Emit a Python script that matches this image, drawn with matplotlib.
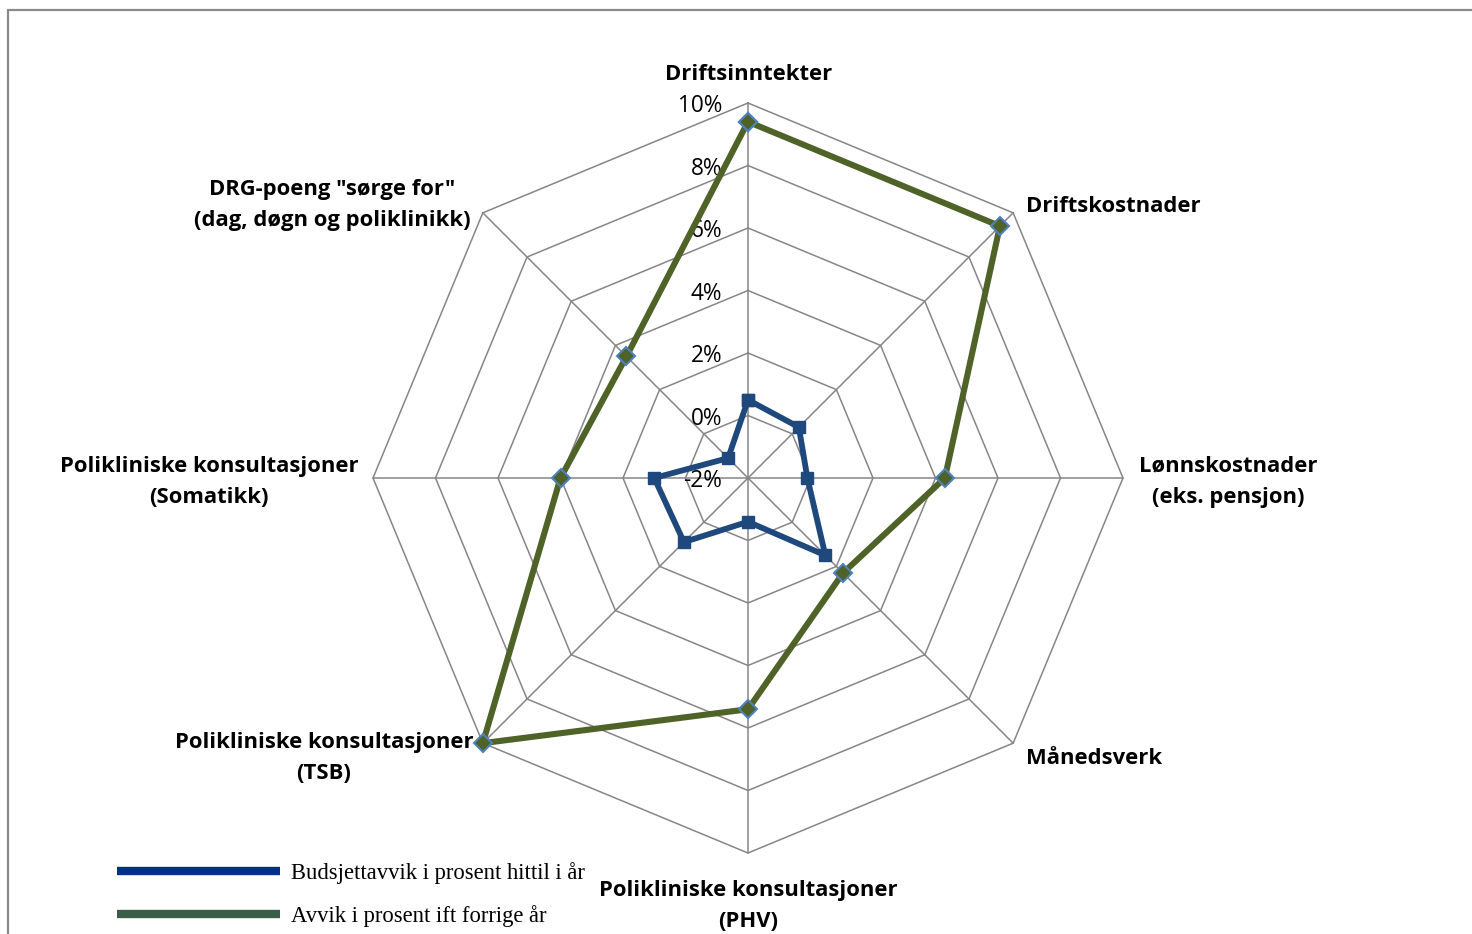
import numpy as np
import matplotlib
matplotlib.use("Agg")
import matplotlib.pyplot as plt
from matplotlib.lines import Line2D
from matplotlib.patches import Rectangle

# ---- data ----
categories = [
    "Driftsinntekter",
    "Driftskostnader",
    "Lønnskostnader\n(eks. pensjon)",
    "Månedsverk",
    "Polikliniske konsultasjoner\n(PHV)",
    "Polikliniske konsultasjoner\n(TSB)",
    "Polikliniske konsultasjoner\n(Somatikk)",
    "DRG-poeng \"sørge for\"\n(dag, døgn og poliklinikk)",
]
budsjettavvik = [0.5, 0.3, -0.1, 1.5, -0.6, 0.9, 1.0, -1.1]
avvik_forrige = [9.4, 9.4, 4.3, 2.3, 5.4, 10.0, 4.0, 3.5]
ring_values = [-2, 0, 2, 4, 6, 8, 10]
ring_labels = ["-2%", "0%", "2%", "4%", "6%", "8%", "10%"]
legend_labels = ["Budsjettavvik i prosent hittil i år", "Avvik i prosent ift forrige år"]

W, H = 1472, 934
fig = plt.figure(figsize=(W / 100, H / 100), dpi=100)

cx, cy, R = 748, 478, 375
ax = fig.add_axes([(cx - R) / W, (H - cy - R) / H, 2 * R / W, 2 * R / H], projection="polar")
ax.set_theta_zero_location("N")
ax.set_theta_direction(-1)
ax.set_ylim(-2, 10)
ax.grid(False)
ax.spines["polar"].set_visible(False)
ax.set_xticks([])
ax.set_yticks([])
ax.patch.set_visible(False)

n = len(categories)
angles = np.arange(n) * 2 * np.pi / n
closed = np.append(angles, angles[0])

grid_color = "#868686"
for rv in ring_values[1:]:
    ax.plot(closed, [rv] * (n + 1), color=grid_color, lw=1.1, zorder=1, clip_on=False)
for a in angles:
    ax.plot([a, a], [-2, 10], color=grid_color, lw=1.1, zorder=1, clip_on=False)

for rv, lab in zip(ring_values, ring_labels):
    ax.annotate(lab, xy=(0, rv), xytext=(-26, 0), textcoords="offset pixels",
                ha="right", va="center_baseline", fontsize=16.3, family="Open Sans", color="#000000")

def close(v):
    return list(v) + [v[0]]

ax.plot(closed, close(budsjettavvik), color="#1F497D", lw=4.2, marker="s", ms=8,
        mfc="#1F497D", mec="#1F497D", zorder=3, clip_on=False)
ax.plot(closed, close(avvik_forrige), color="#4F6228", lw=4.4, marker="D", ms=9.5,
        mfc="#4F6228", mec="#4F81BD", mew=1.5, zorder=4, clip_on=False)

# category labels (figure pixel anchors)
label_pos = [
    (749, 74, "center"),
    (1026, 206, "left"),
    (1228, 482, "center"),
    (1026, 759, "left"),
    (748, 906, "center"),
    (324, 758, "center"),
    (209, 482, "center"),
    (332, 205, "center"),
]
for txt, (px, py, ha) in zip(categories, label_pos):
    fig.text(px / W, 1 - py / H, txt, ha=ha, va="center", multialignment="center",
             fontsize=15.8, fontweight="bold", family="Open Sans", linespacing=1.66)

# frame (top and left edges visible)
fig.add_artist(Rectangle((8 / W, -0.5), 2, 1.5 - 9.5 / H, transform=fig.transFigure,
                         fill=False, edgecolor="#8a8a8a", lw=1.6))

handles = [Line2D([], [], color="#003087", lw=6, solid_capstyle="butt"),
           Line2D([], [], color="#3A5E45", lw=6, solid_capstyle="butt")]
leg = fig.legend(handles, legend_labels, loc="lower left",
                 bbox_to_anchor=(117 / W, 7 / H), frameon=False,
                 prop={"family": "Liberation Serif", "size": 16.3},
                 handlelength=7.2, handletextpad=0.49, labelspacing=0.95,
                 borderpad=0, borderaxespad=0)

fig.savefig("out.png", dpi=100)
